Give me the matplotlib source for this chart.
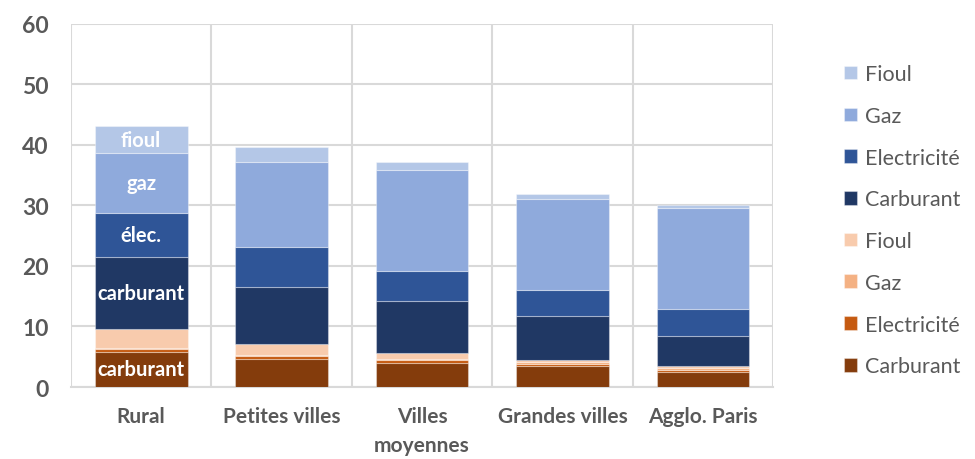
import matplotlib
matplotlib.use("Agg")
import matplotlib.pyplot as plt
import numpy as np

plt.rcParams["font.family"] = ["Lato", "DejaVu Sans"]

categories = ["Rural", "Petites villes", "Villes\nmoyennes", "Grandes villes", "Agglo. Paris"]

# orange group (bottom of the stack)
carburant_o = [5.8, 4.7, 4.0, 3.5, 2.4]
electricite_o = [0.4, 0.4, 0.4, 0.3, 0.4]
gaz_o = [0.2, 0.2, 0.2, 0.3, 0.3]
fioul_o = [3.2, 1.8, 1.1, 0.4, 0.3]
# blue group (top of the stack)
carburant_b = [11.8, 9.5, 8.5, 7.2, 5.0]
electricite_b = [7.3, 6.6, 5.0, 4.4, 4.5]
gaz_b = [9.9, 14.0, 16.6, 15.0, 16.7]
fioul_b = [4.5, 2.5, 1.3, 0.8, 0.5]

series = [
    ("Carburant", carburant_o, "#843C0C"),
    ("Electricité", electricite_o, "#C55A11"),
    ("Gaz", gaz_o, "#F4B183"),
    ("Fioul", fioul_o, "#F8CBAD"),
    ("Carburant", carburant_b, "#203864"),
    ("Electricité", electricite_b, "#2F5597"),
    ("Gaz", gaz_b, "#8FAADC"),
    ("Fioul", fioul_b, "#B4C7E7"),
]

# labels written inside the Rural bar: (series index, text)
rural_labels = [(0, "carburant"), (4, "carburant"), (5, "élec."), (6, "gaz"), (7, "fioul")]

fig = plt.figure(figsize=(9.75, 4.6), dpi=100)
ax = fig.add_axes([0.0728, 0.1565, 0.7202, 0.7895])

x = np.arange(len(categories))
bottom = np.zeros(len(categories))
handles = []
bars_by_series = []
for name, values, color in series:
    bars = ax.bar(x, values, width=0.66, bottom=bottom, color=color,
                  edgecolor=(1, 1, 1, 0.35), linewidth=0.8, label=name, zorder=3)
    handles.append(bars)
    bars_by_series.append((np.array(bottom), np.array(values)))
    bottom = bottom + np.array(values)

for idx, text in rural_labels:
    b, v = bars_by_series[idx]
    ax.text(x[0], b[0] + v[0] / 2, text, color="white", fontsize=14.5,
            fontweight="bold", ha="center", va="center", zorder=4)

ax.set_xlim(-0.5, len(categories) - 0.5)
ax.set_ylim(0, 60)
ax.set_yticks(range(0, 61, 10))
ax.set_xticks(x)
ax.set_xticklabels(categories, fontsize=15, fontweight="bold", color="#595959",
                   linespacing=1.55)
for lab in ax.get_yticklabels():
    lab.set_fontsize(16.5)
    lab.set_fontweight("bold")
    lab.set_color("#595959")
ax.tick_params(axis="x", length=0, pad=14)
ax.tick_params(axis="y", length=0, pad=16)

ax.grid(axis="y", color="#D9D9D9", linewidth=1.5, zorder=0)
for xv in np.arange(-0.5, len(categories), 1.0):
    ax.axvline(xv, color="#D9D9D9", linewidth=1.5, zorder=0)
for side in ["top", "right", "left"]:
    ax.spines[side].set_visible(False)
ax.spines["bottom"].set_color("#D9D9D9")
ax.spines["bottom"].set_linewidth(1.5)

leg = fig.legend(handles[::-1], [s[0] for s in series][::-1],
                 loc="upper left", bbox_to_anchor=(0.857, 0.877),
                 frameon=False, fontsize=15.5, handlelength=0.6, handleheight=0.6,
                 handletextpad=0.35, labelspacing=1.01, borderaxespad=0)
for t in leg.get_texts():
    t.set_color("#595959")

fig.savefig("out.png", dpi=100)
